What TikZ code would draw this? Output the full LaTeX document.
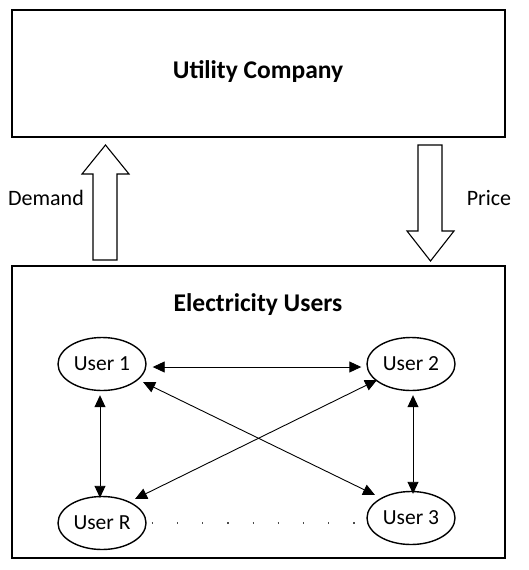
\documentclass[tikz,border=0pt]{standalone}
\usepackage{fontspec}
\setmainfont{Carlito}
\usetikzlibrary{arrows.meta,shapes.geometric}
\begin{document}
\begin{tikzpicture}[x=1pt,y=-1pt,
  bigbox/.style={draw,line width=1.3pt},
  user/.style={draw,ellipse,line width=1.4pt,minimum width=88pt,minimum height=53pt,inner sep=0pt,font=\fontsize{21.5}{25}\selectfont},
  title/.style={font=\bfseries\fontsize{25.5}{29}\selectfont},
  lbl/.style={font=\fontsize{22}{26}\selectfont},
  link/.style={line width=0.9pt,{Triangle[length=12pt,width=11pt]}-{Triangle[length=12pt,width=11pt]}},
  blockarrow/.style={draw,line width=1.1pt,fill=white}]
\useasboundingbox (0,0) rectangle (528,570);
\node[bigbox,minimum width=493pt,minimum height=127pt,inner sep=0pt] (utility) at (258.5,73.5) {};
\node[title] (utext) at (258,72) {Utility Company};
\node[bigbox,minimum width=493pt,minimum height=292pt,inner sep=0pt] (users) at (258.5,412) {};
\node[title] (etext) at (258,305) {Electricity Users};
% block arrows
\draw[blockarrow] (93,260) -- (93,174) -- (82,174) -- (105.5,145) -- (129,174) -- (117,174) -- (117,260) -- cycle;
\draw[blockarrow] (418,145) -- (418,231) -- (407,231) -- (430.5,261) -- (454,231) -- (442,231) -- (442,145) -- cycle;
\node[lbl] (demand) at (46,198) {Demand};
\node[lbl] (price) at (489,198) {Price};
% users
\node[user] (u1) at (102,364) {User 1};
\node[user] (u2) at (411,364) {User 2};
\node[user] (ur) at (102,523) {User R};
\node[user] (u3) at (411,518) {User 3};
\draw[link] ([xshift=6pt,yshift=-3pt]u1.east) -- ([xshift=-5pt,yshift=-3pt]u2.west);
\draw[link] ([yshift=-4pt,xshift=-2pt]u1.south) -- ([yshift=-2pt,xshift=-2pt]ur.north);
\draw[link] ([yshift=-4pt,xshift=2pt]u2.south) -- ([yshift=-3pt,xshift=2pt]u3.north);
\coordinate (a1) at (143,382);
\coordinate (a3) at (375,495);
\coordinate (b2) at (377,380);
\coordinate (br) at (135,499);
\draw[link] (a1) -- (a3);
\draw[link] (b2) -- (br);
\draw[line width=1.2pt,dash pattern=on 1.2pt off 24pt,black!70] ([xshift=5pt]ur.east) -- ([xshift=-4pt,yshift=-5pt]u3.west);
\end{tikzpicture}
\end{document}
